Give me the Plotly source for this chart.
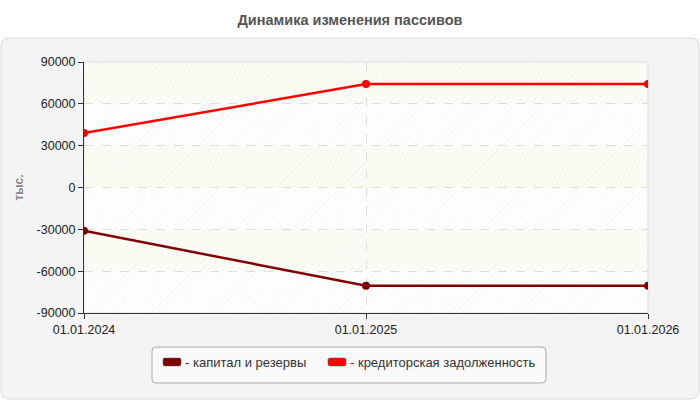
import plotly.graph_objects as go

dates = ["01.01.2024", "01.01.2025", "01.01.2026"]
capital = [-31000, -70500, -70500]
payables = [39000, 74200, 74200]
y_ticks = [90000, 60000, 30000, 0, -30000, -60000, -90000]
y_tick_labels = ["90000", "60000", "30000", "0", "-30000", "-60000", "-90000"]
series_names = ["- капитал и резервы", "- кредиторская задолженность"]
colors = ["#800000", "#ff0000"]

W, H = 700, 400
L, R, T, B = 84, 52, 62, 87
pw, ph = W - L - R, H - T - B

def px2paper(x, y):
    return (x - L) / pw, (H - B - y) / ph

def rounded(xa, ya, xb, yb, r):
    x0, y0 = px2paper(xa, ya)
    x1, y1 = px2paper(xb, yb)
    rx, ry = r / pw, r / ph
    return (f"M {x0+rx},{y0} L {x1-rx},{y0} Q {x1},{y0} {x1},{y0-ry} "
            f"L {x1},{y1+ry} Q {x1},{y1} {x1-rx},{y1} L {x0+rx},{y1} "
            f"Q {x0},{y1} {x0},{y1+ry} L {x0},{y0-ry} Q {x0},{y0} {x0+rx},{y0} Z")

fig = go.Figure()

# hatch background over the plot area
fig.add_trace(go.Scatter(
    x=[dates[0], dates[-1], dates[-1], dates[0], dates[0]],
    y=[y_ticks[-1], y_ticks[-1], y_ticks[0], y_ticks[0], y_ticks[-1]],
    mode="lines", line=dict(width=0), fill="toself",
    fillcolor="rgba(0,0,0,0)",
    fillpattern=dict(shape="/", fgcolor="#e4e4e4", bgcolor="rgba(0,0,0,0)", size=5, solidity=0.15),
    hoverinfo="skip", showlegend=False))

for name, vals, c in zip(series_names, [capital, payables], colors):
    fig.add_trace(go.Scatter(
        x=dates, y=vals, mode="lines+markers", name=name,
        line=dict(color=c, width=2.5), marker=dict(color=c, size=8),
        showlegend=False))

shapes = []
shapes.append(dict(type="path", xref="paper", yref="paper", path=rounded(1, 38, 699, 399, 8),
                   fillcolor="#f4f4f4", line=dict(color="#dcdcdc", width=1), layer="below"))
shapes.append(dict(type="rect", xref="paper", yref="paper", x0=0, x1=1, y0=0, y1=1,
                   fillcolor="#fefefe", line=dict(width=0), layer="below"))
for i in range(len(y_ticks) - 1):
    if i % 2 == 0:
        shapes.append(dict(type="rect", xref="paper", yref="y", x0=0, x1=1,
                           y0=y_ticks[i + 1], y1=y_ticks[i],
                           fillcolor="#fcfcf4", line=dict(width=0), layer="below"))
shapes.append(dict(type="rect", xref="paper", yref="paper", x0=0, x1=1, y0=0, y1=1,
                   fillcolor="rgba(0,0,0,0)", line=dict(color="#dddddd", width=1), layer="below"))
# legend box
shapes.append(dict(type="path", xref="paper", yref="paper", path=rounded(152, 347, 546, 383, 4),
                   fillcolor="#fafafa", line=dict(color="#aaaaaa", width=1), layer="below"))

annotations = []
legend_x = [163, 328]
for name, c, lx in zip(series_names, colors, legend_x):
    shapes.append(dict(type="path", xref="paper", yref="paper",
                       path=rounded(lx, 358, lx + 18, 366, 2),
                       fillcolor=c, line=dict(color="#555555", width=0.5), layer="above"))
    ax, ay = px2paper(lx + 20, 362)
    annotations.append(dict(xref="paper", yref="paper", x=ax, y=ay, xanchor="left", yanchor="middle",
                            text=name, showarrow=False, font=dict(size=13, color="#333333")))

fig.update_layout(
    width=W, height=H,
    margin=dict(l=L, r=R, t=T, b=B, autoexpand=False),
    paper_bgcolor="white", plot_bgcolor="rgba(0,0,0,0)",
    font=dict(family="Liberation Sans, Arial, sans-serif", size=12, color="#333333"),
    title=dict(text="<b>Динамика изменения пассивов</b>", x=0.5, xref="container",
               xanchor="center", y=1 - 20 / H, yanchor="middle",
               font=dict(size=14.5, color="#555555")),
    shapes=shapes,
    annotations=annotations,
    showlegend=False,
    xaxis=dict(type="category", categoryorder="array", categoryarray=dates,
               range=[0, len(dates) - 1], showline=True, linecolor="#333333",
               linewidth=1, ticks="outside", ticklen=5, tickcolor="#333333",
               showgrid=True, gridcolor="#dddddd", griddash="dash", gridwidth=1,
               zeroline=False, automargin=False, tickfont=dict(size=12.5, color="#222222")),
    yaxis=dict(range=[y_ticks[-1], y_ticks[0]], tickvals=y_ticks, ticktext=y_tick_labels,
               showline=True, linecolor="#333333", linewidth=1, ticks="outside",
               ticklen=5, tickcolor="#333333", showgrid=True, gridcolor="#dddddd",
               griddash="dash", gridwidth=1, zeroline=False, automargin=False,
               tickfont=dict(size=12.5, color="#222222"),
               title=dict(text="<b>тыс.</b>", standoff=10, font=dict(size=12, color="#888888"))),
)

fig.write_html("out.html")
